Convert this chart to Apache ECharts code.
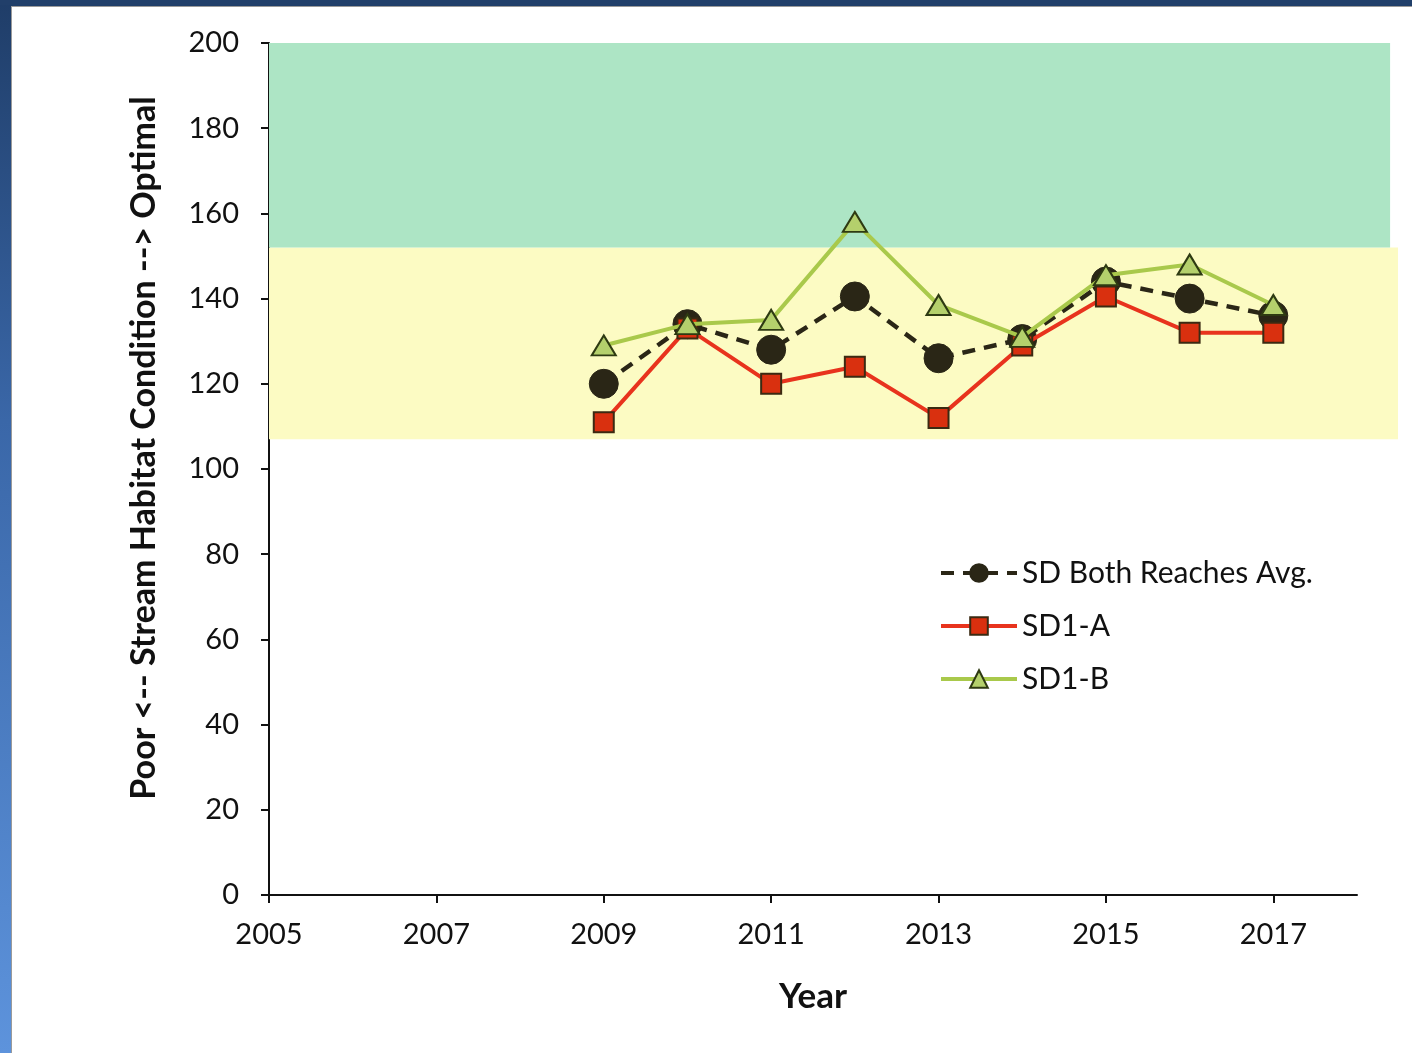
<!DOCTYPE html>
<html>
<head>
<meta charset="utf-8">
<script src="https://cdn.jsdelivr.net/npm/echarts@6/dist/echarts.min.js"></script>
<style>
  html, body { margin: 0; padding: 0; }
  body {
    width: 1412px; height: 1053px; overflow: hidden;
    background: linear-gradient(to bottom, #1f3d68 0%, #3a67a8 40%, #5d93dc 100%);
    position: relative;
  }
  #topbar { position: absolute; left: 0; top: 0; width: 1412px; height: 5px; background: #213f6a; }
  #chart {
    position: absolute; left: 11px; top: 6px; width: 1401px; height: 1047px;
    background: #ffffff; border-top: 1px solid #9a9a9a; border-left: 1px solid #9a9a9a;
  }
</style>
</head>
<body>
<div id="topbar"></div>
<div id="chart"></div>
<script>
// years and survey values
var years = [2009, 2010, 2011, 2012, 2013, 2014, 2015, 2016, 2017];
var bothAvg = [120, 134, 128, 140.5, 126, 130.5, 144, 140, 136];
var sd1a = [111, 133, 120, 124, 112, 129, 140.5, 132, 132];
var sd1b = [129, 134, 135, 158, 138.5, 131, 145.5, 148, 138.5];
var xTicks = [2005, 2007, 2009, 2011, 2013, 2015, 2017];

// condition bands (score ranges)
var optimalBand = [152, 200];
var fairBand = [107, 152];

function pairs(vals) {
  return years.map(function (y, i) { return [y, vals[i]]; });
}

var font = 'Lato, "Open Sans", sans-serif';
var chart = echarts.init(document.getElementById('chart'));

var option = {
  animation: false,
  textStyle: { fontFamily: font, color: '#111' },
  grid: [
    { left: 257, top: 36, right: 56, bottom: 159 },
    { left: 257, top: 36, right: 15, bottom: 159 }
  ],
  xAxis: [
    {
      type: 'value', gridIndex: 0, min: 2005, max: 2018,
      name: 'Year', nameLocation: 'middle', nameGap: 84,
      nameTextStyle: { fontSize: 35, fontWeight: 'bold', color: '#111', fontFamily: font },
      axisLine: { lineStyle: { color: '#111', width: 2 } },
      axisTick: { customValues: xTicks, length: 8, lineStyle: { color: '#111', width: 2 } },
      axisLabel: {
        customValues: xTicks, fontSize: 29, color: '#111', margin: 25, fontFamily: font,
        formatter: function (v) { return String(v); }
      },
      splitLine: { show: false }
    },
    {
      type: 'value', gridIndex: 1, min: 0, max: 1, show: false
    }
  ],
  yAxis: [
    {
      type: 'value', gridIndex: 0, min: 0, max: 200, interval: 20,
      name: 'Poor <-- Stream Habitat Condition --> Optimal',
      nameLocation: 'middle', nameGap: 108,
      nameTextStyle: { fontSize: 34, fontWeight: 'bold', color: '#111', fontFamily: font, padding: [0, 0, 0, 42] },
      axisLine: { show: true, lineStyle: { color: '#111', width: 2 } },
      axisTick: { show: true, length: 8, lineStyle: { color: '#111', width: 2 } },
      axisLabel: { fontSize: 29, color: '#111', margin: 30, fontFamily: font },
      splitLine: { show: false }
    },
    {
      type: 'value', gridIndex: 1, min: 0, max: 200, show: false
    }
  ],
  legend: {
    left: 927, top: 551, orient: 'vertical', padding: 0,
    itemWidth: 76, itemHeight: 22, itemGap: 23,
    lineStyle: { width: 4 },
    textStyle: { fontSize: 30, color: '#111', fontFamily: font, padding: [0, 0, 0, 0] },
    data: ['SD Both Reaches Avg.', 'SD1-A', 'SD1-B']
  },
  series: [
    {
      name: 'bands', type: 'line', xAxisIndex: 1, yAxisIndex: 1, z: 0,
      data: [], silent: true,
      markArea: {
        silent: true,
        data: [
          [{ xAxis: 0, yAxis: fairBand[0], itemStyle: { color: '#fcfbc3' } }, { xAxis: 1, yAxis: fairBand[1] }],
          [{ xAxis: 0, yAxis: optimalBand[0], itemStyle: { color: '#ade5c5' } }, { xAxis: 0.993, yAxis: optimalBand[1] }]
        ]
      }
    },
    {
      name: 'SD Both Reaches Avg.', type: 'line', z: 3,
      data: pairs(bothAvg),
      symbol: 'circle', symbolSize: 29,
      lineStyle: { color: '#2a2616', width: 4.5, type: [13, 9] },
      itemStyle: { color: '#2a2616', borderColor: '#2a2616', borderWidth: 1 }
    },
    {
      name: 'SD1-A', type: 'line', z: 4,
      data: pairs(sd1a),
      symbol: 'rect', symbolSize: 20,
      lineStyle: { color: '#e8331d', width: 4 },
      itemStyle: { color: '#d9300f', borderColor: '#3b2a12', borderWidth: 2 }
    },
    {
      name: 'SD1-B', type: 'line', z: 5,
      data: pairs(sd1b),
      symbol: 'triangle', symbolSize: [24, 20],
      lineStyle: { color: '#a9c94b', width: 4 },
      itemStyle: { color: '#b4d06c', borderColor: '#2e3a12', borderWidth: 2 }
    }
  ]
};

chart.setOption(option);
</script>
</body>
</html>
